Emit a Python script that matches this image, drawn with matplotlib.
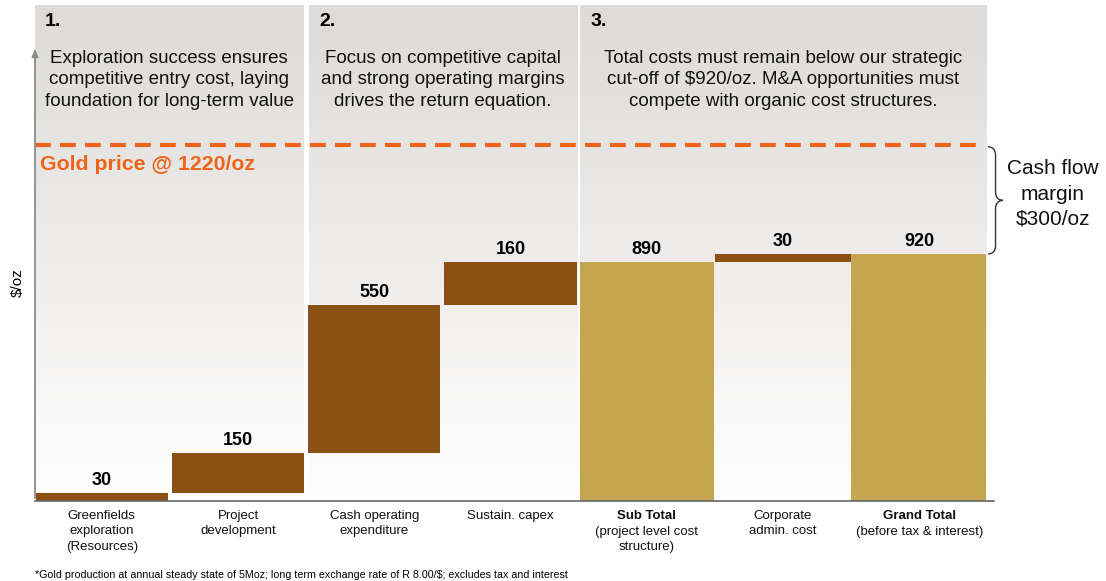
"""
Gold cost-structure waterfall ($/oz) with three strategy panels.
"""
import numpy as np
import matplotlib
matplotlib.use('Agg')
import matplotlib.pyplot as plt
from matplotlib.path import Path
from matplotlib.patches import PathPatch

plt.rcParams['font.family'] = ['Liberation Sans', 'DejaVu Sans']

# ---- data -------------------------------------------------------------
categories = ['Greenfields\nexploration\n(Resources)', 'Project\ndevelopment',
              'Cash operating\nexpenditure', 'Sustain. capex',
              'Sub Total', 'Corporate\nadmin. cost', 'Grand Total']
cat_notes = ['', '', '', '', '(project level cost\nstructure)', '', '(before tax & interest)']
values = [30, 150, 550, 160, 890, 30, 920]
is_total = [False, False, False, False, True, False, True]
gold_price = 1220

panel_nums = ['1.', '2.', '3.']
panel_texts = ['Exploration success ensures\ncompetitive entry cost, laying\nfoundation for long-term value',
               'Focus on competitive capital\nand strong operating margins\ndrives the return equation.',
               'Total costs must remain below our strategic\ncut-off of \\$920/oz. M&A opportunities must\n'
               'compete with organic cost structures.']
footnote = ('*Gold production at annual steady state of 5Moz; long term exchange rate of '
            'R 8.00/\\$; excludes tax and interest')

# ---- layout -----------------------------------------------------------
BROWN = '#8B5114'
GOLD = '#C4A550'
ORANGE = '#F0641A'
GOLD_LINE_Y = 1325   # source draws the price line off-scale
Y_TOP = 1847
panels = [(-0.49, 1.48), (1.52, 3.49), (3.51, 6.49)]
widths = [0.97, 0.97, 0.97, 0.97, 0.98, 1.0, 1.0]

fig = plt.figure(figsize=(11.06, 5.81), dpi=100)
ax = fig.add_axes([35 / 1106, 80 / 581, 951 / 1106, 496 / 581])

# gradient panels
top_rgb = np.array([221, 218, 215]) / 255.0
t = np.linspace(0, 1, 256)[:, None]
grad = top_rgb[None, :] * (1 - t) + np.ones(3)[None, :] * t
grad = grad[:, None, :]
for (x0, x1) in panels:
    ax.imshow(grad, extent=(x0, x1, 0, Y_TOP), aspect='auto', zorder=0,
              interpolation='bilinear')

# waterfall bars
x = np.arange(len(values))
bottoms = []
running = 0
for v, tot in zip(values, is_total):
    if tot:
        bottoms.append(0)
        running = v
    else:
        bottoms.append(running)
        running += v
colors = [GOLD if tot else BROWN for tot in is_total]
ax.bar(x, values, bottom=bottoms, width=widths, color=colors, zorder=3)

for i, (v, b) in enumerate(zip(values, bottoms)):
    ax.annotate(f'{v}', (i, b + v), xytext=(0, 5.5), textcoords='offset points',
                ha='center', va='baseline', fontsize=13, fontweight='bold', zorder=5)

# category labels
for i, (c, n, tot) in enumerate(zip(categories, cat_notes, is_total)):
    ax.annotate(c, (i, 0), xytext=(0, -6.5), textcoords='offset points', ha='center',
                va='top', fontsize=9.5, fontweight='bold' if tot else 'normal',
                linespacing=1.38, annotation_clip=False, color='#111111')
    if n:
        ax.annotate(n, (i, 0), xytext=(0, -18), textcoords='offset points', ha='center',
                    va='top', fontsize=9.5, linespacing=1.38, annotation_clip=False,
                    color='#111111')

# panel headers
for (x0, x1), num, txt in zip(panels, panel_nums, panel_texts):
    ax.text(x0 + 0.075, 1785, num, ha='left', va='center', fontsize=14,
            fontweight='bold', zorder=5)
    ax.text((x0 + x1) / 2, 1568, txt, ha='center', va='center', fontsize=13.5,
            linespacing=1.36, color='#111111', zorder=5)

# gold price line
ax.plot([-0.49, 6.42], [GOLD_LINE_Y, GOLD_LINE_Y], color=ORANGE, lw=3,
        dashes=(3.8, 2.2), zorder=4, solid_capstyle='butt')
ax.text(-0.45, 1252, f'Gold price @ {gold_price}/oz', color=ORANGE, fontsize=15.3,
        fontweight='bold', ha='left', va='center', zorder=5)

# axes: arrowed y axis and baseline
ax.annotate('', xy=(-0.49, 1695), xytext=(-0.49, 0),
            arrowprops=dict(arrowstyle='-|>,head_length=0.45,head_width=0.18',
                            color='#8c8c8c', lw=1.3), zorder=6, annotation_clip=False)
ax.plot([-0.49, 6.55], [0, 0], color='#666666', lw=1.2, zorder=6, clip_on=False)

# brace for cash flow margin
bx, bw, r = 6.505, 0.11, 32
ytop, ybot = GOLD_LINE_Y - 6, values[-1]
ymid = (ytop + ybot) / 2
xm = bx + bw / 2
verts = [(bx, ytop), (xm, ytop), (xm, ytop - r),
         (xm, ymid + r), (xm, ymid), (bx + bw, ymid),
         (xm, ymid), (xm, ymid - r),
         (xm, ybot + r), (xm, ybot), (bx, ybot)]
codes = [Path.MOVETO, Path.CURVE3, Path.CURVE3,
         Path.LINETO, Path.CURVE3, Path.CURVE3,
         Path.CURVE3, Path.CURVE3,
         Path.LINETO, Path.CURVE3, Path.CURVE3]
ax.add_patch(PathPatch(Path(verts, codes), fill=False, ec='#333333', lw=1.0,
                       clip_on=False, zorder=6))
margin = gold_price - values[-1]
fig.text(1053 / 1106, 1 - 194 / 581, f'Cash flow\nmargin\n\\${margin}/oz', ha='center',
         va='center', fontsize=15, linespacing=1.42, color='#111111')

ax.set_xlim(-0.49, 6.49)
ax.set_ylim(0, Y_TOP)
ax.axis('off')

fig.text(18 / 1106, 1 - 283 / 581, '\\$/oz', rotation=90, ha='center', va='center',
         fontsize=11)
fig.text(35 / 1106, 1 - 575 / 581, footnote, ha='left', va='center', fontsize=7.7)

fig.savefig('out.png', dpi=100)
